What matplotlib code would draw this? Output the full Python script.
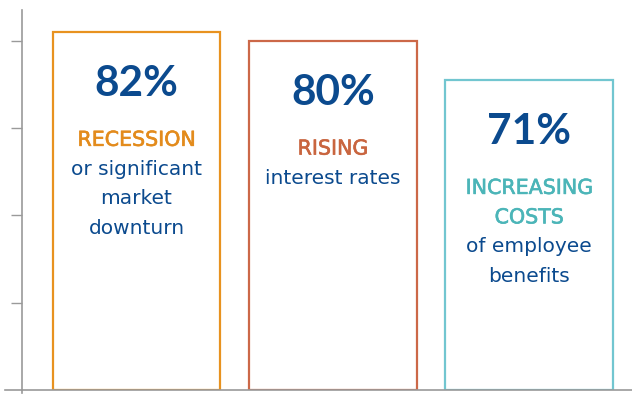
import matplotlib
matplotlib.use("Agg")
import matplotlib.pyplot as plt
from matplotlib.lines import Line2D
import matplotlib.patheffects as pe

values = [82, 80, 71]
pct_labels = ["82%", "80%", "71%"]
head_lines = [["RECESSION"], ["RISING"], ["INCREASING", "COSTS"]]
body_lines = [["or significant", "market", "downturn"], ["interest rates"], ["of employee", "benefits"]]
edge_colors = ["#E8921F", "#CC6848", "#72C6D0"]
head_colors = ["#E38B1C", "#C9653F", "#4BB5B8"]
yticks = [0, 20, 40, 60, 80]

blue = "#0B4A8E"
grey = "#9A9A9A"
PFONT = ["Lato", "DejaVu Sans"]
TFONT = ["DejaVu Sans"]

fig = plt.figure(figsize=(6.32, 3.94), dpi=100)
ax = fig.add_axes([22/632, 4/394, 610/632, 380/394])

x = list(range(len(values)))
ax.bar(x, values, width=0.855, facecolor="white", edgecolor=edge_colors, linewidth=1.6, zorder=2)

ax.set_xlim(-0.583, 2.524)
ax.set_ylim(0, 87)
ax.set_yticks(yticks[1:])
ax.set_yticklabels([])
ax.set_xticks([])
ax.tick_params(axis="y", direction="out", length=8, width=1, color=grey)
for s in ["top", "right"]:
    ax.spines[s].set_visible(False)
for s in ["left", "bottom"]:
    ax.spines[s].set_color(grey)
    ax.spines[s].set_linewidth(1.2)

# small extensions of the axes past the origin
ax.add_line(Line2D([-17/610, 0], [0, 0], transform=ax.transAxes, color=grey, lw=1.2, clip_on=False))
ax.add_line(Line2D([0, 0], [-3/380, 0], transform=ax.transAxes, color=grey, lw=1.2, clip_on=False))

pt = 72/100  # points per pixel
for i, v in enumerate(values):
    ax.annotate(pct_labels[i], (i, v), xytext=(0, -52*pt), textcoords="offset points",
                ha="center", va="center", fontsize=30.5, fontweight="bold",
                color=blue, family=PFONT, zorder=3)
    y_off = -108
    for line in head_lines[i]:
        ax.annotate(line, (i, v), xytext=(0, y_off*pt), textcoords="offset points",
                    ha="center", va="center", fontsize=14.8,
                    color=head_colors[i], family=TFONT, zorder=3,
                    path_effects=[pe.withStroke(linewidth=0.45, foreground=head_colors[i])])
        y_off -= 29.5
    for line in body_lines[i]:
        ax.annotate(line, (i, v), xytext=(0, y_off*pt), textcoords="offset points",
                    ha="center", va="center", fontsize=14.5,
                    color=blue, family=TFONT, zorder=3)
        y_off -= 29.5

fig.savefig("out.png", dpi=100)
